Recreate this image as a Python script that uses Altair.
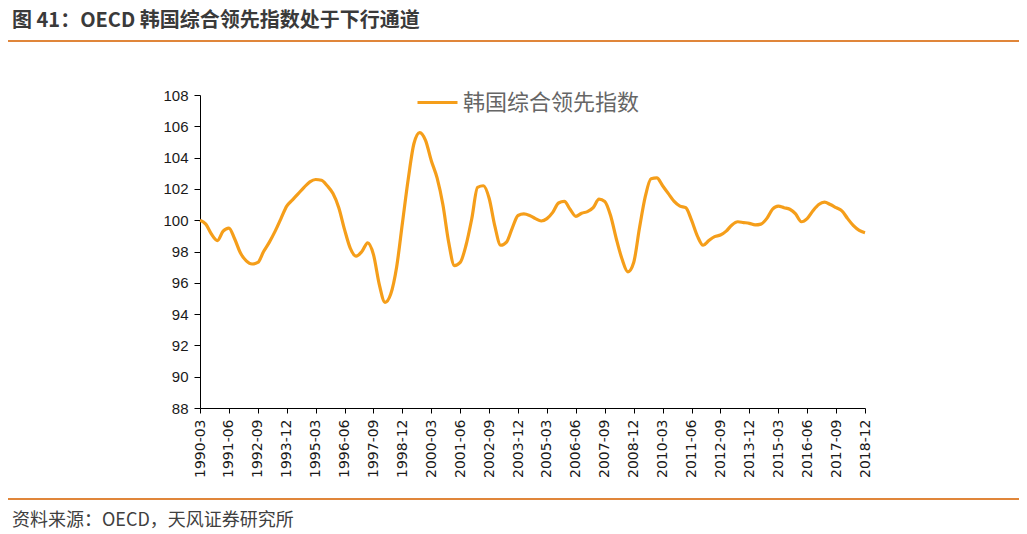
import altair as alt
import pandas as pd

years = list(range(1990, 2019))
months = ["03", "06", "09", "12"]
dates = [f"{y}-{m}" for y in years for m in months]

values = [
    100.0, 99.75, 99.1, 98.7,      # 1990
    99.3, 99.5, 98.8, 97.9,        # 1991
    97.4, 97.2, 97.3, 98.0,        # 1992
    98.6, 99.3, 100.1, 100.9,      # 1993
    101.3, 101.7, 102.1, 102.45,   # 1994
    102.6, 102.55, 102.2, 101.7,   # 1995
    100.8, 99.4, 98.2, 97.7,       # 1996
    98.0, 98.55, 97.8, 95.9,       # 1997
    94.75, 95.3, 97.0, 99.8,       # 1998
    102.6, 104.9, 105.6, 105.1,    # 1999
    103.8, 102.7, 101.0, 98.6,     # 2000
    97.1, 97.3, 98.4, 100.1,       # 2001
    102.1, 102.2, 101.4, 99.6,     # 2002
    98.4, 98.6, 99.5, 100.3,       # 2003
    100.4, 100.3, 100.1, 99.95,    # 2004
    100.1, 100.5, 101.1, 101.2,    # 2005
    100.7, 100.25, 100.45, 100.55, # 2006
    100.8, 101.35, 101.2, 100.3,   # 2007
    98.8, 97.5, 96.7, 97.3,        # 2008
    99.5, 101.5, 102.65, 102.7,    # 2009
    102.2, 101.7, 101.2, 100.9,    # 2010
    100.8, 100.0, 99.0, 98.4,      # 2011
    98.7, 98.95, 99.05, 99.3,      # 2012
    99.7, 99.9, 99.85, 99.8,       # 2013
    99.7, 99.75, 100.1, 100.7,     # 2014
    100.9, 100.8, 100.7, 100.4,    # 2015
    99.9, 100.1, 100.6, 101.0,     # 2016
    101.15, 101.0, 100.8, 100.6,   # 2017
    100.1, 99.65, 99.35, 99.2,     # 2018
]
dates = dates[: len(values)]

tick_labels = [
    "1990-03", "1991-06", "1992-09", "1993-12", "1995-03", "1996-06",
    "1997-09", "1998-12", "2000-03", "2001-06", "2002-09", "2003-12",
    "2005-03", "2006-06", "2007-09", "2008-12", "2010-03", "2011-06",
    "2012-09", "2013-12", "2015-03", "2016-06", "2017-09", "2018-12",
]
y_ticks = [88, 90, 92, 94, 96, 98, 100, 102, 104, 106, 108]

series_name = "韩国综合领先指数"
title_text = "图 41：OECD 韩国综合领先指数处于下行通道"
source_text = "资料来源：OECD，天风证券研究所"

df = pd.DataFrame({"date": dates, "value": values, "series": series_name})
deco = pd.DataFrame({"k": [0]})

LINE_COLOR = "#F59E1A"
RULE_COLOR = "#E0863A"

line = alt.Chart(df).mark_line(strokeWidth=3.2, interpolate="monotone").encode(
    x=alt.X(
        "date:O",
        sort=None,
        scale=alt.Scale(type="point", padding=0),
        axis=alt.Axis(
            values=tick_labels,
            labelAngle=-90,
            title=None,
            labelFont="DejaVu Sans",
            labelFontSize=14,
            labelColor="#1a1a1a",
            labelPadding=6,
            tickSize=5,
            tickColor="#000000",
            domainColor="#000000",
        ),
    ),
    y=alt.Y(
        "value:Q",
        scale=alt.Scale(domain=[88, 108], nice=False, zero=False),
        axis=alt.Axis(
            values=y_ticks,
            title=None,
            grid=False,
            labelFont="Liberation Sans",
            labelFontSize=15,
            labelColor="#1a1a1a",
            labelPadding=6,
            tickSize=6,
            tickColor="#000000",
            domainColor="#000000",
        ),
    ),
    color=alt.Color(
        "series:N",
        scale=alt.Scale(range=[LINE_COLOR]),
        legend=alt.Legend(
            title=None,
            orient="none",
            legendX=216,
            legendY=-14,
            symbolType="stroke",
            symbolSize=1600,
            symbolStrokeWidth=3,
            labelFont="Noto Sans CJK SC",
            labelFontSize=22,
            labelColor="#666666",
            labelOffset=4,
            labelLimit=400,
            padding=0,
        ),
    ),
)

title = alt.Chart(deco).mark_text(
    text=title_text, align="left", baseline="middle", fontSize=20,
    fontWeight="bold", font="Noto Sans CJK SC", color="#3a3a3a",
).encode(x=alt.value(-188), y=alt.value(-74))

top_rule = alt.Chart(deco).mark_rule(color=RULE_COLOR, strokeWidth=2).encode(
    x=alt.value(-200), x2=alt.value(827), y=alt.value(-54)
)

bottom_rule = alt.Chart(deco).mark_rule(color=RULE_COLOR, strokeWidth=2).encode(
    x=alt.value(-200), x2=alt.value(827), y=alt.value(404)
)

source = alt.Chart(deco).mark_text(
    text=source_text, align="left", baseline="middle", fontSize=18,
    font="Noto Sans CJK SC", color="#404040",
).encode(x=alt.value(-188), y=alt.value(426))

chart = alt.layer(line, title, top_rule, bottom_rule, source).properties(
    width=665,
    height=313,
    autosize=alt.AutoSizeParams(type="none"),
    padding={"left": 192, "top": 87, "right": 154, "bottom": 122},
).configure(background="white").configure_view(stroke=None)

chart.save("out.html", embed_options={"renderer": "svg", "actions": False})
